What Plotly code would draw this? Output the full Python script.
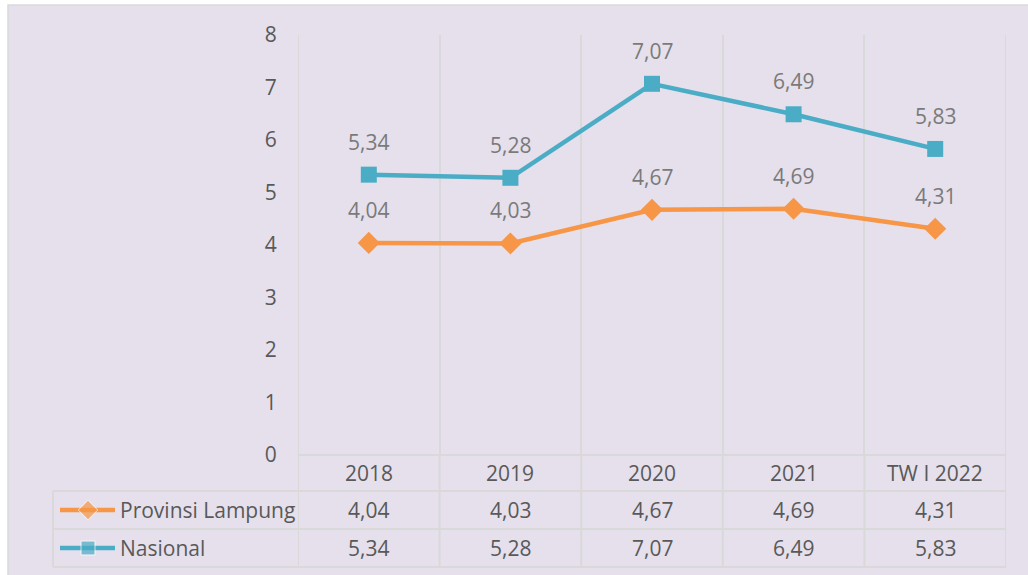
import plotly.graph_objects as go

categories = ["2018", "2019", "2020", "2021", "TW I 2022"]
lampung = [4.04, 4.03, 4.67, 4.69, 4.31]
nasional = [5.34, 5.28, 7.07, 6.49, 5.83]
series_names = ["Provinsi Lampung", "Nasional"]
y_ticks = [0, 1, 2, 3, 4, 5, 6, 7, 8]

W, H = 1028, 575
ORANGE = "#f79646"
BLUE = "#4bacc6"
BG = "#e5e0ec"
GRID = "#d9d9d9"
TXT = "#595959"
LBL = "#7a7a7a"
FONT = "Open Sans"
FS = 21

def fx(px):
    return px / W

def fy(py):
    return 1 - py / H

def fmt(v):
    return f"{v:.2f}".replace(".", ",")

PLOT_L, PLOT_R, PLOT_T, PLOT_B = 298, 1006, 35, 455
ROW_Y = [455, 491, 529, 567]
TABLE_L = 53

xs = list(range(len(categories)))

fig = go.Figure()
fig.add_trace(go.Scatter(x=xs, y=lampung, mode="lines+markers", name=series_names[0],
                         line=dict(color=ORANGE, width=4.5),
                         marker=dict(symbol="diamond", size=17, color=ORANGE),
                         showlegend=False, hoverinfo="skip"))
fig.add_trace(go.Scatter(x=xs, y=nasional, mode="lines+markers", name=series_names[1],
                         line=dict(color=BLUE, width=4.5),
                         marker=dict(symbol="square", size=16, color=BLUE),
                         showlegend=False, hoverinfo="skip"))

# legend symbols in table (overlay axes spanning the whole figure)
legend_rows = [(ROW_Y[1] + ROW_Y[2]) / 2, (ROW_Y[2] + ROW_Y[3]) / 2]
for name, color, sym, msize, ry in [(series_names[0], ORANGE, "diamond", 15, legend_rows[0]),
                                    (series_names[1], BLUE, "square", 14, legend_rows[1])]:
    fig.add_trace(go.Scatter(x=[60, 88, 115], y=[ry, ry, ry], mode="lines+markers",
                             line=dict(color=color, width=4.5),
                             marker=dict(symbol=sym, size=[0, msize, 0], color=color),
                             xaxis="x2", yaxis="y2", showlegend=False, hoverinfo="skip"))

shapes = []
# panel background
shapes.append(dict(type="rect", xref="paper", yref="paper", x0=fx(8), x1=fx(1040), y0=fy(5), y1=fy(590),
                   fillcolor=BG, line=dict(color=GRID, width=1.5), layer="below"))
# table horizontal lines
shapes.append(dict(type="line", xref="paper", yref="paper", x0=fx(PLOT_L), x1=fx(PLOT_R),
                   y0=fy(ROW_Y[0]), y1=fy(ROW_Y[0]), line=dict(color=GRID, width=2)))
for ry in ROW_Y[1:]:
    shapes.append(dict(type="line", xref="paper", yref="paper", x0=fx(TABLE_L), x1=fx(PLOT_R),
                       y0=fy(ry), y1=fy(ry), line=dict(color=GRID, width=2)))
# table vertical lines
shapes.append(dict(type="line", xref="paper", yref="paper", x0=fx(TABLE_L), x1=fx(TABLE_L),
                   y0=fy(ROW_Y[1]), y1=fy(ROW_Y[3]), line=dict(color=GRID, width=2)))
n = len(categories)
for i in range(n + 1):
    top = PLOT_T if i in (0, n) else PLOT_B
    shapes.append(dict(type="line", xref="x", yref="paper", x0=i - 0.5, x1=i - 0.5,
                       y0=fy(top), y1=fy(ROW_Y[3]), line=dict(color=GRID, width=2), layer="below"))

annotations = []
for i, c in enumerate(categories):
    annotations.append(dict(x=i, y=fy((ROW_Y[0] + ROW_Y[1]) / 2), xref="x", yref="paper", text=c,
                            yanchor="middle", xanchor="center",
                            showarrow=False, font=dict(family=FONT, size=FS, color=TXT)))
    for vals, ry in [(lampung, legend_rows[0]), (nasional, legend_rows[1])]:
        annotations.append(dict(x=i, y=fy(ry), xref="x", yref="paper", text=fmt(vals[i]),
                                yanchor="middle", xanchor="center",
                                showarrow=False, font=dict(family=FONT, size=FS, color=TXT)))
    for vals in (lampung, nasional):
        annotations.append(dict(x=i, y=vals[i], xref="x", yref="y", text=fmt(vals[i]),
                                yanchor="middle", xanchor="center",
                                yshift=33, showarrow=False, font=dict(family=FONT, size=FS, color=LBL)))
for name, ry in zip(series_names, legend_rows):
    annotations.append(dict(x=fx(118), y=fy(ry), xref="paper", yref="paper", text=name,
                            xanchor="left", yanchor="middle",
                            showarrow=False, font=dict(family=FONT, size=FS, color=TXT)))

fig.update_layout(
    width=W, height=H, autosize=False, margin=dict(l=0, r=0, t=0, b=0, pad=0),
    paper_bgcolor="white", plot_bgcolor="rgba(0,0,0,0)",
    xaxis=dict(domain=[fx(PLOT_L), fx(PLOT_R)], range=[-0.5, n - 0.5],
               tickvals=[i - 0.5 for i in range(n + 1)], showticklabels=False,
               showgrid=True, gridcolor=GRID, gridwidth=2, zeroline=False, showline=False, ticks="",
               automargin=False),
    yaxis=dict(domain=[fy(PLOT_B), fy(PLOT_T)], range=[0, 8], tickvals=y_ticks,
               showgrid=False, zeroline=False, showline=False,
               ticks="outside", ticklen=16, tickcolor="rgba(0,0,0,0)",
               tickfont=dict(family=FONT, size=FS, color=TXT), automargin=False),
    xaxis2=dict(domain=[0, 1], range=[0, W], visible=False, fixedrange=True, automargin=False),
    yaxis2=dict(domain=[0, 1], range=[H, 0], visible=False, fixedrange=True, anchor="x2",
                automargin=False),
    shapes=shapes, annotations=annotations,
    font=dict(family=FONT, color=TXT),
)

post = ("document.documentElement.style.margin='0';document.body.style.margin='0';"
        "document.body.style.overflow='hidden';document.documentElement.style.overflow='hidden';"
        "var d=document.getElementById('{plot_id}');d.style.position='absolute';"
        "d.style.left='0px';d.style.top='0px';")
fig.write_html("out.html", post_script=post, config={"displayModeBar": False})
